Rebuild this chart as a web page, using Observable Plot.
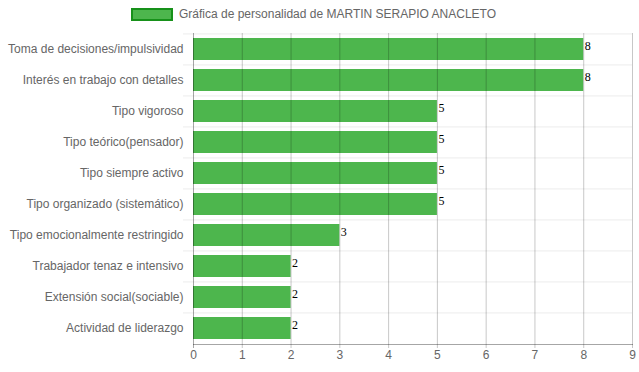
<!DOCTYPE html>
<html>
<head>
<meta charset="utf-8">
<script src="https://cdn.jsdelivr.net/npm/d3@7"></script>
<script src="https://cdn.jsdelivr.net/npm/@observablehq/plot@0.6"></script>
<style>
  body { margin: 0; background: #fff; }
  #wrap { position: relative; width: 639px; height: 372px; font-family: "Liberation Sans", Arial, sans-serif; }
  #legend { position: absolute; left: 0; top: 0; width: 639px; height: 28px; }
  #legend .box { position: absolute; left: 131px; top: 8px; width: 38px; height: 9px; background: #4db64d; border: 2px solid #17911a; }
  #legend .lbl { position: absolute; left: 179px; top: 7px; font-size: 12px; color: #666; line-height: 14px; white-space: nowrap; }
  #chart { position: absolute; left: 0; top: 28px; }
</style>
</head>
<body>
<div id="wrap">
  <div id="legend"><div class="box"></div><div class="lbl">Gráfica de personalidad de MARTIN SERAPIO ANACLETO</div></div>
  <div id="chart"></div>
</div>
<script>
const categories = [
  "Toma de decisiones/impulsividad",
  "Interés en trabajo con detalles",
  "Tipo vigoroso",
  "Tipo teórico(pensador)",
  "Tipo siempre activo",
  "Tipo organizado (sistemático)",
  "Tipo emocionalmente restringido",
  "Trabajador tenaz e intensivo",
  "Extensión social(sociable)",
  "Actividad de liderazgo"
];
const values = [8, 8, 5, 5, 5, 5, 3, 2, 2, 2];
const xTicks = [0, 1, 2, 3, 4, 5, 6, 7, 8, 9];

const data = categories.map((c, i) => ({cat: c, val: values[i]}));
const H = 344, mTop = 5, mBottom = 28;
const step = (H - mTop - mBottom) / categories.length;

const chart = Plot.plot({
  width: 639,
  height: H,
  marginLeft: 193,
  marginRight: 7,
  marginTop: mTop,
  marginBottom: mBottom,
  style: {fontFamily: "'Liberation Sans', Arial, sans-serif", fontSize: "12px", color: "#666", background: "#fff"},
  x: {domain: [0, 9]},
  y: {domain: categories, paddingInner: 0.28, paddingOuter: 0.14},
  marks: [
    Plot.ruleY(categories, {y: d => d, dy: -step / 2, stroke: "#000", strokeOpacity: 0.08, insetLeft: -10}),
    Plot.barX(data, {x: "val", y: "cat", fill: "#4db64d"}),
    Plot.ruleX(xTicks, {x: d => d, stroke: "#000", strokeOpacity: d => d === 0 ? 0.35 : 0.22, insetBottom: -4}),
    Plot.frame({anchor: "bottom", stroke: "#000", strokeOpacity: 0.35}),
    Plot.axisX(xTicks, {tickSize: 0, tickPadding: 6, fill: "#666", fontSize: 12, label: null}),
    Plot.axisY({tickSize: 0, tickPadding: 10, fill: "#666", fontSize: 12, label: null}),
    Plot.text(data, {x: "val", y: "cat", text: d => String(d.val), textAnchor: "start", dx: 1, dy: -3, fill: "#000", fontFamily: "'Liberation Serif', 'Times New Roman', serif", fontSize: 12})
  ]
});
document.getElementById("chart").appendChild(chart);
</script>
</body>
</html>
